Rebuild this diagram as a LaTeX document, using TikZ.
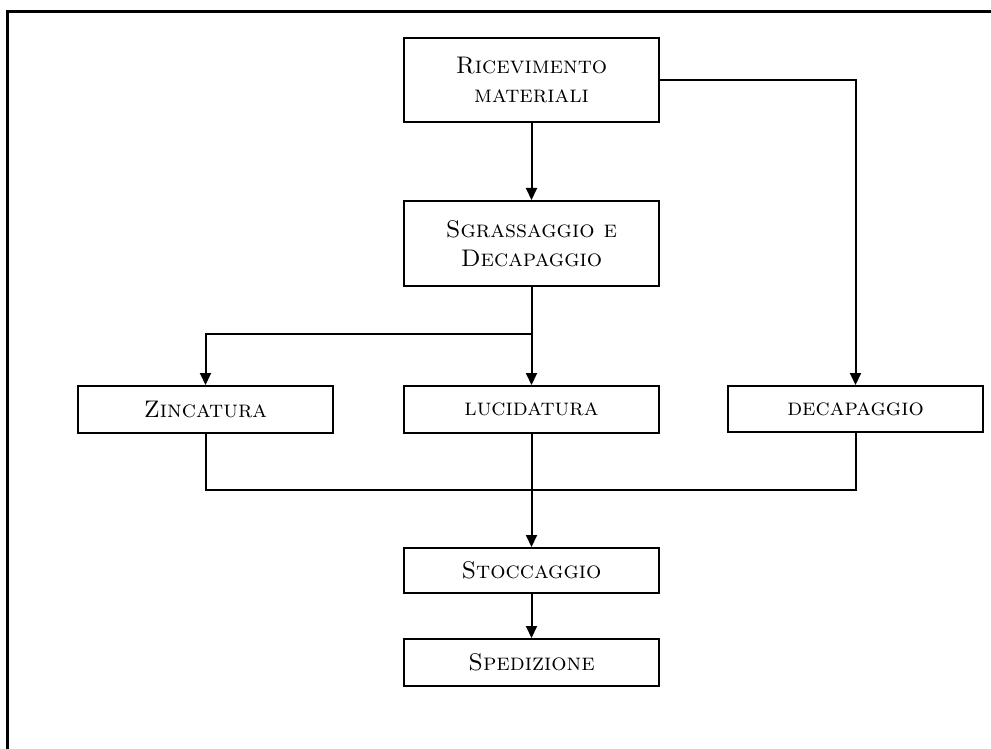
\documentclass[tikz,border=0pt]{standalone}
\usepackage{fontspec}
\usetikzlibrary{arrows.meta}
\begin{document}
\begin{tikzpicture}[x=1pt,y=-1pt,
  box/.style={draw,line width=2pt,minimum width=255pt,inner sep=0pt,align=center,font=\fontsize{24}{29}\selectfont\scshape},
  conn/.style={line width=2pt},
  arr/.style={conn,-{Triangle[width=11pt,length=12pt]}}]
\useasboundingbox (0,0) rectangle (991,749);
\draw[line width=3pt] (7,749) -- (7,12) -- (991,12);
\node[box,minimum height=84pt] (ric) at (531.5,80) {Ricevimento\\materiali};
\node[box,minimum height=85pt] (sgr) at (531.5,243.5) {Sgrassaggio e\\Decapaggio};
\node[box,minimum height=47pt] (zin) at (205.5,409.5) {Zincatura};
\node[box,minimum height=47pt] (luc) at (531.5,409.5) {lucidatura};
\node[box,minimum height=46pt] (dec) at (855.5,409) {decapaggio};
\node[box,minimum height=45pt] (sto) at (531.5,570.5) {Stoccaggio};
\node[box,minimum height=47pt] (spe) at (531.5,662.5) {Spedizione};
\coordinate (split) at (531.5,334);
\coordinate (mergeL) at (205.5,490);
\coordinate (mergeR) at (855.5,490);
\draw[arr] (ric) -- (sgr);
\draw[arr] (ric.east) -| (dec.north);
\draw[conn] (sgr.south) -- (split);
\draw[arr] (split) -| (zin.north);
\draw[arr] (split) -- (luc.north);
\draw[conn] (zin.south) -- (mergeL) -- (mergeR) -- (dec.south);
\draw[arr] (luc.south) -- (sto.north);
\draw[arr] (sto) -- (spe);
\end{tikzpicture}
\end{document}
